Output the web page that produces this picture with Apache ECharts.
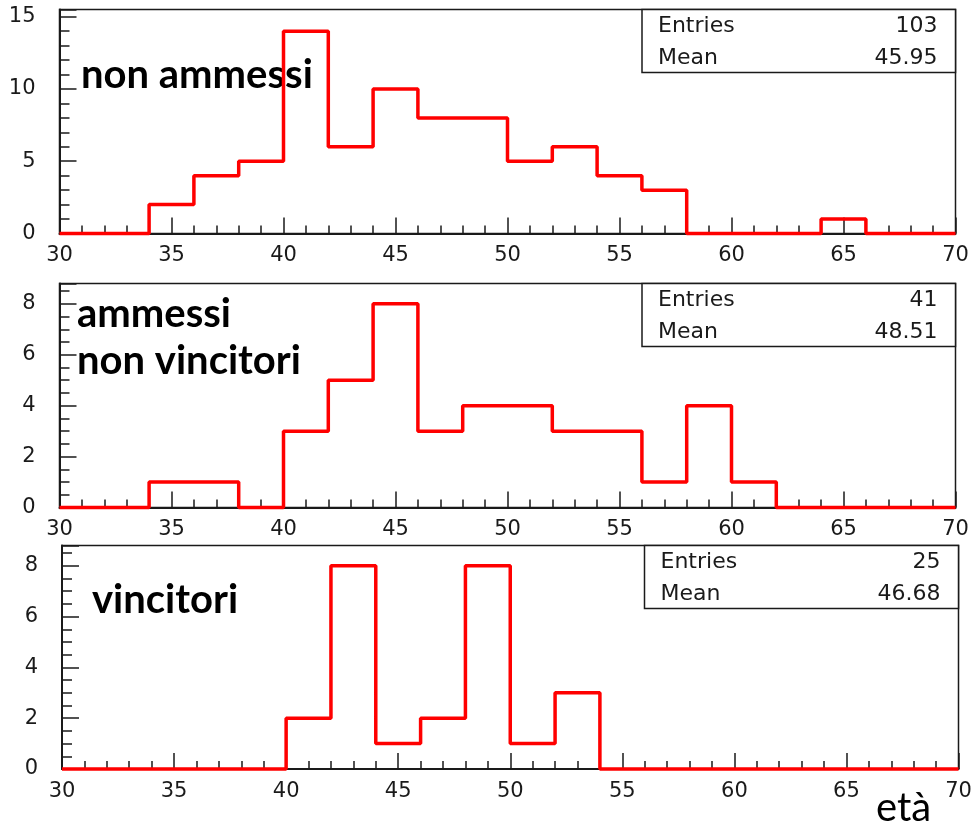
<!DOCTYPE html>
<html><head><meta charset="utf-8">
<script src="https://cdn.jsdelivr.net/npm/echarts@6/dist/echarts.min.js"></script>
<style>html,body{margin:0;padding:0;background:#fff}#c{width:971px;height:823px}</style>
</head><body><div id="c"></div>
<script>
// ---- data ----
const binStarts = [30,32,34,36,38,40,42,44,46,48,50,52,54,56,58,60,62,64,66,68];
const xEnd = 70;
const nonAmmessi          = [0,0,2,4,5,14,6,10,8,8,5,6,4,3,0,0,0,1,0,0];
const ammessiNonVincitori = [0,0,1,1,0,3,5,8,3,4,4,3,3,1,4,1,0,0,0,0];
const vincitori           = [0,0,0,0,0,2,8,1,2,8,1,3,0,0,0,0,0,0,0,0];
const panelValues = [nonAmmessi, ammessiNonVincitori, vincitori];
const panelLabels = ['non ammessi', 'ammessi\nnon vincitori', 'vincitori'];
const statsEntries = ['103', '41', '25'];
const statsMean = ['45.95', '48.51', '46.68'];
const yMax = [15.5, 8.8, 8.8];
const yMajor = [5, 2, 2];
const yMinor = [1, 0.5, 0.5];
const xAxisTitle = 'età';

// ---- layout ----
const grids = [
  {left: 59.5, top: 9.5, width: 896, height: 224},
  {left: 59.5, top: 283.5, width: 896, height: 224},
  {left: 62, top: 545.5, width: 896.5, height: 223.5}
];
const labelPos = [
  {x: 81, y: 75, lh: 47},
  {x: 77, y: 338, lh: 47},
  {x: 92, y: 600, lh: 47}
];
const INK = '#1a1a1a';
const statFont = 'DejaVu Sans';

const chart = echarts.init(document.getElementById('c'), null, {renderer: 'canvas'});

const option = {
  animation: false,
  backgroundColor: '#fff',
  grid: grids.map(g => Object.assign({
    show: true, borderColor: INK, borderWidth: 1.5, backgroundColor: 'transparent',
    outerBoundsMode: 'none', containLabel: false
  }, g)),
  xAxis: grids.map((g, i) => ({
    gridIndex: i, type: 'value', min: 30, max: xEnd, interval: 5,
    axisLine: {onZero: false, lineStyle: {color: INK, width: 2}},
    axisTick: {inside: true, length: 16, lineStyle: {color: INK, width: 1.5}},
    minorTick: {show: true, splitNumber: 5, length: 8, lineStyle: {color: INK, width: 1.5}},
    axisLabel: {fontFamily: statFont, fontSize: 21, color: INK, margin: 12},
    splitLine: {show: false}, minorSplitLine: {show: false}
  })),
  yAxis: [].concat(
    grids.map((g, i) => ({
      gridIndex: i, type: 'value', position: 'left', min: 0, max: yMax[i], interval: yMajor[i],
      axisLine: {show: true, onZero: false, lineStyle: {color: INK, width: 2}},
      axisTick: {inside: true, length: 17, lineStyle: {color: INK, width: 1.5}},
      axisLabel: {
        fontFamily: statFont, fontSize: 21, color: INK, margin: 24,
        formatter: v => (Math.abs(v / yMajor[i] - Math.round(v / yMajor[i])) < 1e-6) ? String(Math.round(v)) : ''
      },
      splitLine: {show: false}
    })),
    grids.map((g, i) => ({
      gridIndex: i, type: 'value', position: 'left', min: 0, max: yMax[i], interval: yMinor[i],
      axisLine: {show: false, onZero: false},
      axisTick: {inside: true, length: 10, lineStyle: {color: INK, width: 1.5}},
      axisLabel: {show: false},
      splitLine: {show: false}
    }))
  ),
  series: panelValues.map((vals, i) => ({
    type: 'line', xAxisIndex: i, yAxisIndex: i, step: 'end', showSymbol: false, symbol: 'none',
    clip: false, z: 5,
    lineStyle: {color: '#ff0000', width: 3.5},
    data: binStarts.map((x, k) => [x, vals[k]]).concat([[xEnd, vals[vals.length - 1]]])
  })),
  graphic: []
};

// stats boxes and labels
const sFont = '22px "' + statFont + '"';
grids.forEach((g, i) => {
  const bx = g.left + 582.5, by = g.top, bw = g.left + g.width - bx, bh = 63;
  option.graphic.push({
    type: 'rect', z: 10, shape: {x: bx, y: by, width: bw, height: bh},
    style: {fill: '#fff', stroke: INK, lineWidth: 1.5}
  });
  option.graphic.push({
    type: 'text', z: 11, x: bx + 16, y: by + 17,
    style: {text: 'Entries', font: sFont, fill: INK, verticalAlign: 'middle', align: 'left'}
  });
  option.graphic.push({
    type: 'text', z: 11, x: bx + 16, y: by + 49,
    style: {text: 'Mean', font: sFont, fill: INK, verticalAlign: 'middle', align: 'left'}
  });
  option.graphic.push({
    type: 'text', z: 11, x: bx + bw - 18, y: by + 17,
    style: {text: statsEntries[i], font: sFont, fill: INK, verticalAlign: 'middle', align: 'right'}
  });
  option.graphic.push({
    type: 'text', z: 11, x: bx + bw - 18, y: by + 49,
    style: {text: statsMean[i], font: sFont, fill: INK, verticalAlign: 'middle', align: 'right'}
  });
  option.graphic.push({
    type: 'text', z: 3, x: labelPos[i].x, y: labelPos[i].y,
    style: {text: panelLabels[i], font: 'bold 40px Lato', fill: '#000', verticalAlign: 'middle', align: 'left', lineHeight: labelPos[i].lh}
  });
});
option.graphic.push({
  type: 'text', z: 3, x: 876, y: 808,
  style: {text: xAxisTitle, font: '40px Lato', fill: '#000', verticalAlign: 'middle', align: 'left'}
});

chart.setOption(option);
</script>
</body></html>
